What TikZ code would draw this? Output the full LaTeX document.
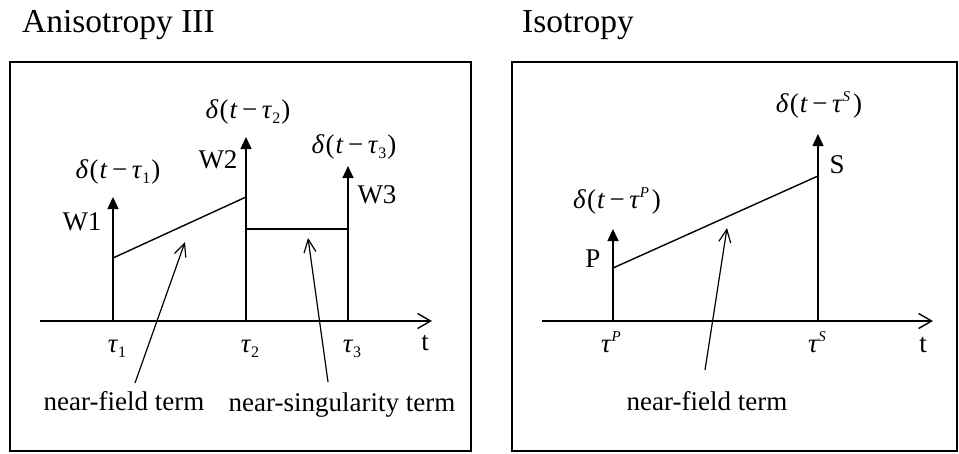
\documentclass[tikz,border=0pt]{standalone}
\usepackage{fontspec}
\setmainfont{Liberation Serif}
\usetikzlibrary{arrows.meta}
\newcommand{\tsub}[1]{\raisebox{-5pt}{\fontsize{16}{16}\selectfont #1}}
\newcommand{\tsup}[1]{\raisebox{11pt}{\fontsize{15}{15}\selectfont\itshape #1}\kern2pt}
\newcommand{\dimp}[1]{\textit{δ}\kern1pt(\kern1pt\textit{t}\,−\,\textit{τ}#1\kern1pt)}
\tikzset{
  frame/.style={draw=black,line width=1.2pt},
  axis/.style={line width=1.4pt,-{Straight Barb[length=13pt,width=15pt]}},
  spike/.style={line width=1.4pt,-{Triangle[length=12pt,width=11pt]}},
  trend/.style={line width=1.4pt},
  pointer/.style={line width=1.2pt,-{Straight Barb[length=13pt,width=12pt]}},
  title/.style={font=\fontsize{33.5}{36}\selectfont,anchor=base west,inner sep=0pt},
  lbl/.style={font=\fontsize{27}{30}\selectfont,anchor=base,inner sep=0pt},
}
\begin{document}
\begin{tikzpicture}[x=1pt,y=-1pt]
  \useasboundingbox (0,0) rectangle (959,453);

  % left panel: anisotropy III
  \node[title] (ttlA) at (22,32) {Anisotropy III};
  \draw[frame] (10,62) rectangle (471,451);
  \coordinate (oA) at (40,321);
  \coordinate (eA) at (432,321);
  \draw[axis] (oA) -- (eA);
  \foreach \x/\h/\n in {113/197/1,246/137/2,348/166/3}{
    \coordinate (tau\n) at (\x,321);
    \coordinate (top\n) at (\x,\h);
    \draw[spike] (tau\n) -- (top\n);
    \node[lbl] (tl\n) at (\x+4,352) {\textit{τ}\tsub{\n}};
  }
  \coordinate (nfA) at (113,258);
  \coordinate (nfB) at (246,197);
  \coordinate (nsA) at (246,229);
  \coordinate (nsB) at (348,229);
  \draw[trend] (nfA) -- (nfB);
  \draw[trend] (nsA) -- (nsB);
  \node[lbl] (tA) at (425,350) {t};
  \node[lbl] (w1) at (82,230) {W1};
  \node[lbl] (w2) at (218,168) {W2};
  \node[lbl] (w3) at (377,203) {W3};
  \node[lbl] (d1) at (118,178) {\dimp{\tsub{1}}};
  \node[lbl] (d2) at (248,118) {\dimp{\tsub{2}}};
  \node[lbl] (d3) at (354,153) {\dimp{\tsub{3}}};
  \node[lbl] (nearA) at (124,410) {near-field term};
  \node[lbl] (sing) at (342,411) {near-singularity term};
  \coordinate (q1) at (135,383);
  \coordinate (p1) at (185,242);
  \coordinate (q2) at (328,382);
  \coordinate (p2) at (308,238);
  \draw[pointer] (q1) -- (p1);
  \draw[pointer] (q2) -- (p2);

  % right panel: isotropy
  \node[title] (ttlB) at (522,32) {Isotropy};
  \draw[frame] (512,62) rectangle (957,451);
  \coordinate (oB) at (542,321);
  \coordinate (eB) at (933,321);
  \draw[axis] (oB) -- (eB);
  \coordinate (tauP) at (613,321);
  \coordinate (topP) at (613,229);
  \coordinate (tauS) at (818,321);
  \coordinate (topS) at (818,134);
  \draw[spike] (tauP) -- (topP);
  \draw[spike] (tauS) -- (topS);
  \coordinate (pA) at (613,268);
  \coordinate (pB) at (818,176);
  \draw[trend] (pA) -- (pB);
  \node[lbl] (tlP) at (612,352) {\textit{τ}\tsup{P}};
  \node[lbl] (tlS) at (818,352) {\textit{τ}\tsup{S}};
  \node[lbl] (tB) at (923,352) {t};
  \node[lbl] (lP) at (593,267) {P};
  \node[lbl] (lS) at (837,173) {S};
  \node[lbl] (dP) at (617,208) {\dimp{\tsup{P}}};
  \node[lbl] (dS) at (819,112) {\dimp{\tsup{S}}};
  \node[lbl] (nearB) at (707,410) {near-field term};
  \coordinate (q3) at (705,370);
  \coordinate (p3) at (727,228);
  \draw[pointer] (q3) -- (p3);
\end{tikzpicture}
\end{document}
